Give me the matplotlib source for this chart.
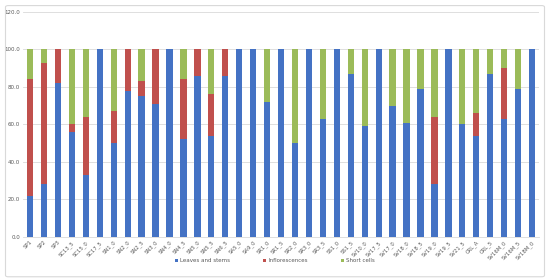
import matplotlib
matplotlib.use("Agg")
import matplotlib.pyplot as plt
from matplotlib.patches import FancyBboxPatch
import numpy as np

categories = ["SP1", "SP2", "SP3", "SC13_5", "SC15_0", "SC17_5", "SN1_0", "SN2_0",
              "SN2_5", "SN3_0", "SN4_0", "SN4_5", "SN5_0", "SN5_5", "SN6_5", "SA5_0",
              "SA9_0", "SR1_0", "SR1_5", "SR2_0", "SR3_0", "SR3_5", "SS1_0", "SS1_5",
              "SV10_0", "SV17_5", "SV17_0", "SV18_0", "SV18_5", "SV19_0", "SV19_5",
              "SV21_5", "CRL_A", "CRL_5", "SV16M_0", "SV16M_5", "SV18M_0"]

leaves = [22, 28, 82, 56, 33, 100, 50, 78, 75, 71, 100, 52, 86, 54, 86, 100,
          100, 72, 100, 50, 100, 63, 100, 87, 59, 100, 70, 61, 79, 28, 100,
          60, 54, 87, 63, 79, 100]
inflor = [62, 65, 18, 4, 31, 0, 17, 22, 8, 29, 0, 32, 14, 22, 14, 0,
          0, 0, 0, 0, 0, 0, 0, 0, 0, 0, 0, 0, 0, 36, 0,
          0, 12, 0, 27, 0, 0]
short = [16, 7, 0, 40, 36, 0, 33, 0, 17, 0, 0, 16, 0, 24, 0, 0,
         0, 28, 0, 50, 0, 37, 0, 13, 41, 0, 30, 39, 21, 36, 0,
         40, 34, 13, 10, 21, 0]

series_names = ["Leaves and stems", "Inflorescences", "Short cells"]
colors = ["#4472C4", "#C0504D", "#9BBB59"]

fig = plt.figure(figsize=(5.5, 2.79), dpi=100)
fig.patches.append(FancyBboxPatch((0.01, 0.008), 0.98, 0.972, boxstyle="round,pad=0,rounding_size=0.005",
                                  transform=fig.transFigure, fill=False, edgecolor="#D9D9D9", linewidth=0.8))
ax = fig.add_axes([0.042, 0.151, 0.938, 0.806])

x = np.arange(len(categories))
l = np.array(leaves); r = np.array(inflor); s = np.array(short)
w = 0.45
ax.bar(x, l, w, color=colors[0], label=series_names[0], zorder=3)
ax.bar(x, r, w, bottom=l, color=colors[1], label=series_names[1], zorder=3)
ax.bar(x, s, w, bottom=l + r, color=colors[2], label=series_names[2], zorder=3)

ax.set_ylim(0, 120)
ax.set_xlim(-0.5, len(categories) - 0.5)
ax.set_yticks(np.arange(0, 121, 20))
ax.set_yticklabels([f"{v:.1f}" for v in np.arange(0, 121, 20)], fontsize=4, color="#595959")
ax.set_xticks(x)
ax.set_xticklabels(categories, rotation=45, ha="right", rotation_mode="anchor", fontsize=3.8, color="#595959")
ax.tick_params(length=0, pad=2)
ax.grid(axis="y", color="#D9D9D9", linewidth=0.6, zorder=0)
for sp in ["top", "right", "left"]:
    ax.spines[sp].set_visible(False)
ax.spines["bottom"].set_color("#D9D9D9")
ax.spines["bottom"].set_linewidth(0.6)

handles, labels = ax.get_legend_handles_labels()
fig.legend(handles, labels, loc="center", bbox_to_anchor=(0.5, 0.065), ncol=3, frameon=False,
           fontsize=4, handlelength=0.5, handleheight=0.5, columnspacing=6, handletextpad=0.4,
           labelcolor="#595959")

fig.savefig("out.png", dpi=100)
